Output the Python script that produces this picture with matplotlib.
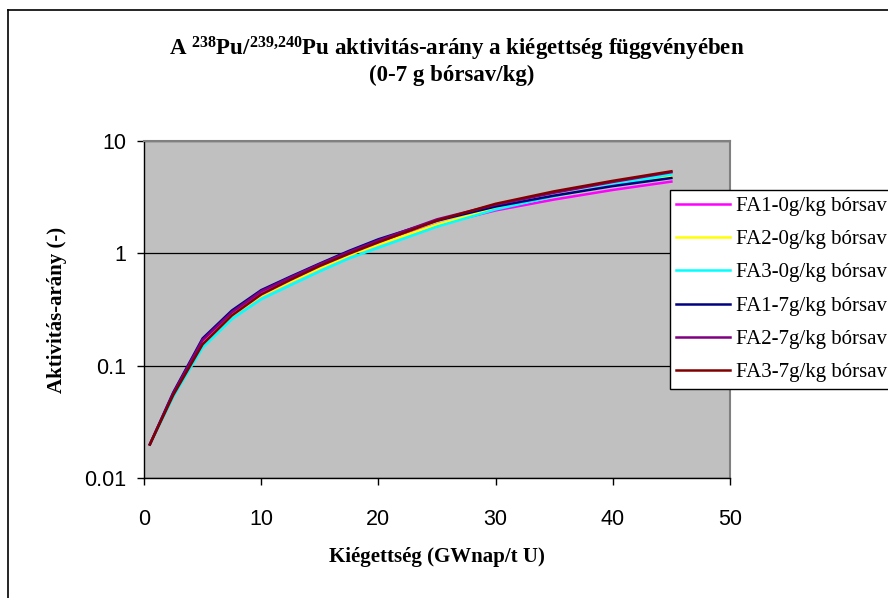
import matplotlib
matplotlib.use("Agg")
import matplotlib.pyplot as plt
from matplotlib.lines import Line2D

# adatok
burnup = [0.5, 2.5, 5, 7.5, 10, 12.5, 15, 17.5, 20, 25, 30, 35, 40, 45]
fa1_0 = [0.020, 0.056, 0.162, 0.29, 0.44, 0.59, 0.77, 0.99, 1.23, 1.80, 2.40, 3.00, 3.65, 4.33]
fa2_0 = [0.020, 0.055, 0.155, 0.28, 0.42, 0.56, 0.74, 0.96, 1.20, 1.80, 2.50, 3.20, 4.00, 4.86]
fa3_0 = [0.020, 0.053, 0.145, 0.26, 0.39, 0.52, 0.69, 0.90, 1.12, 1.72, 2.45, 3.20, 4.05, 5.00]
fa1_7 = [0.020, 0.058, 0.175, 0.31, 0.47, 0.62, 0.81, 1.05, 1.33, 1.95, 2.60, 3.25, 3.95, 4.66]
fa2_7 = [0.020, 0.057, 0.170, 0.30, 0.46, 0.61, 0.80, 1.03, 1.30, 2.00, 2.70, 3.45, 4.30, 5.25]
fa3_7 = [0.020, 0.055, 0.155, 0.28, 0.43, 0.58, 0.77, 0.99, 1.25, 1.95, 2.75, 3.55, 4.40, 5.35]

series = [fa1_0, fa2_0, fa3_0, fa1_7, fa2_7, fa3_7]
labels = ['FA1-0g/kg bórsav', 'FA2-0g/kg bórsav', 'FA3-0g/kg bórsav',
          'FA1-7g/kg bórsav', 'FA2-7g/kg bórsav', 'FA3-7g/kg bórsav']
colors = ['#FF00FF', '#FFFF00', '#00FFFF', '#000080', '#800080', '#800000']

plt.rcParams['mathtext.fontset'] = 'custom'
plt.rcParams['mathtext.rm'] = 'Liberation Serif:bold'
plt.rcParams['mathtext.it'] = 'Liberation Serif:bold'
plt.rcParams['mathtext.bf'] = 'Liberation Serif:bold'

W, H = 888, 598
fig = plt.figure(figsize=(W / 100, H / 100), dpi=100)

# keret a diagram körül
fig.add_artist(Line2D([8 / W, 1.0], [1 - 10 / H, 1 - 10 / H], color='black', lw=1.2))
fig.add_artist(Line2D([8 / W, 8 / W], [0, 1 - 10 / H], color='black', lw=1.2))

x0, x1, y0, y1 = 144, 730, 140.7, 478.3
ax = fig.add_axes([x0 / W, 1 - y1 / H, (x1 - x0) / W, (y1 - y0) / H])
ax.set_facecolor('#C0C0C0')

for vals, lab, col in zip(series, labels, colors):
    ax.plot(burnup, vals, color=col, lw=1.8, label=lab)

ax.set_yscale('log')
ax.set_xlim(0, 50)
ax.set_ylim(0.01, 10)
ax.set_xticks([0, 10, 20, 30, 40, 50])
ax.set_yticks([0.01, 0.1, 1, 10])
ax.set_yticklabels(['0.01', '0.1', '1', '10'])
ax.minorticks_off()
ax.yaxis.grid(True, color='black', lw=0.9)
ax.set_axisbelow(True)

for s in ['top', 'right']:
    ax.spines[s].set_color('#808080')
    ax.spines[s].set_linewidth(1.5)
for s in ['left', 'bottom']:
    ax.spines[s].set_color('black')
    ax.spines[s].set_linewidth(1.0)

ax.tick_params(axis='x', direction='out', length=5, width=1, pad=17, labelsize=15.5)
ax.tick_params(axis='y', direction='out', length=5, width=1, pad=8, labelsize=15.5)
for t in ax.get_xticklabels() + ax.get_yticklabels():
    t.set_fontfamily('Liberation Sans')

ax.set_xlabel('Kiégettség (GWnap/t U)', fontfamily='Liberation Serif',
              fontweight='bold', fontsize=15)
ax.xaxis.set_label_coords(0.5, -(557 - y1) / (y1 - y0))
ax.xaxis.label.set_va('center')
ax.set_ylabel('Aktivitás-arány (-)', fontfamily='Liberation Serif',
              fontweight='bold', fontsize=15)
ax.yaxis.set_label_coords(-(x0 - 57) / (x1 - x0), 0.5)
ax.yaxis.label.set_va('center')

# cím
fig.text(457 / W, 1 - 49 / H,
         'A $^{238}$Pu/$^{239{,}240}$Pu aktivitás-arány a kiégettség függvényében',
         ha='center', va='center', fontfamily='Liberation Serif',
         fontweight='bold', fontsize=16.5)
fig.text(452 / W, 1 - 75 / H, '(0-7 g bórsav/kg)',
         ha='center', va='center', fontfamily='Liberation Serif',
         fontweight='bold', fontsize=16.5)

leg = fig.legend(loc='upper left', bbox_to_anchor=(670 / W, 1 - 190 / H),
                 borderaxespad=0, fancybox=False, framealpha=1,
                 edgecolor='black', handlelength=2.6, handletextpad=0.25,
                 labelspacing=0.66, borderpad=0.3,
                 prop={'family': 'Liberation Serif', 'size': 15})
leg.get_frame().set_linewidth(1.0)

fig.savefig('out.png', dpi=100)
